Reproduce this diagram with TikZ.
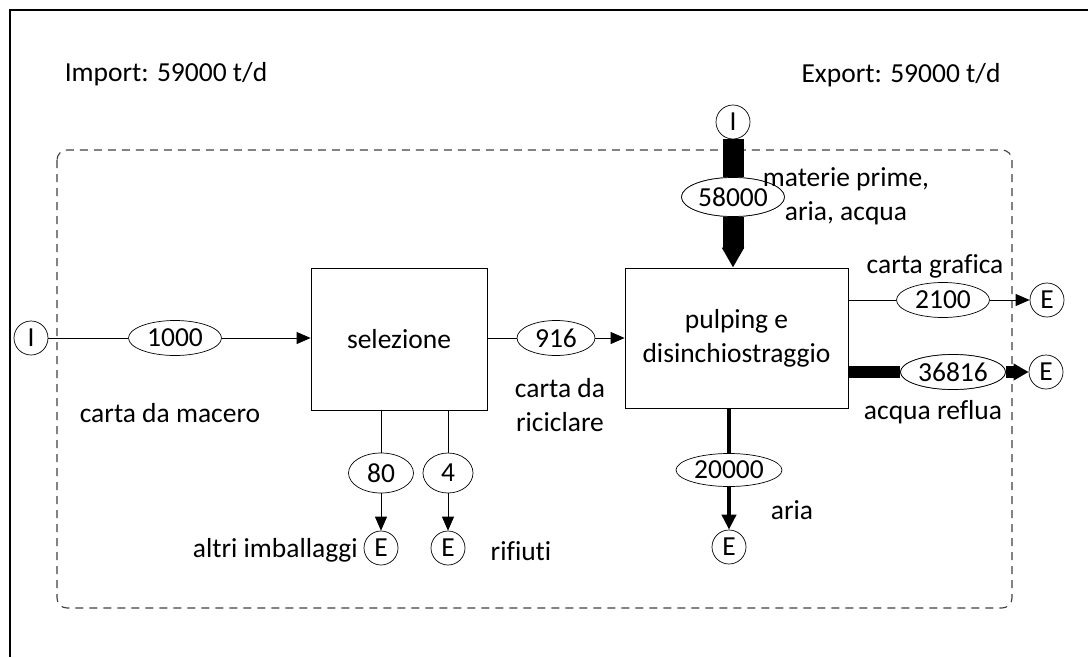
\documentclass[tikz,border=0pt]{standalone}
\usepackage{fontspec}
\setmainfont{Carlito}[Ligatures=NoCommon]
\usetikzlibrary{arrows.meta,shapes.geometric,calc}
\begin{document}
\begin{tikzpicture}[x=1pt,y=-1pt,
  every node/.style={font=\fontsize{27.5}{34}\selectfont, inner sep=0pt},
  val/.style={draw, ellipse, fill=white, line width=0.7pt, minimum height=35pt},
  io/.style={draw, circle, fill=white, line width=0.7pt, minimum size=34pt},
  proc/.style={draw, rectangle, line width=0.8pt, align=center},
  lbl/.style={align=center},
  flow/.style={line width=0.8pt},
  tip/.style={-{Triangle[length=14pt,width=12pt]}}
]
\useasboundingbox (0,0) rectangle (1088,657);
% outer frame (partially visible)
\draw[line width=1.5pt] (10,657) -- (10,10) -- (1088,10);
% system boundary
\draw[dash pattern=on 8pt off 6pt, line width=1.1pt, black!75, rounded corners=10pt] (57,150) rectangle (1012,608);

\node[lbl] (imp) at (166,74) {Import: 59000 t/d};
\node[lbl] (exp) at (901,75) {Export: 59000 t/d};

% processes
\node[proc, minimum width=176pt, minimum height=142pt] (sel) at (399,339) {selezione};
\node[proc, minimum width=223pt, minimum height=140pt] (pul) at (736.5,338) {pulping e\\disinchiostraggio};

% input left
\node[io] (Ileft) at (31,338) {I};
\node[val, minimum width=93pt] (e1000) at (175,338) {1000};
\draw[flow] (Ileft.east) -- (e1000.west);
\draw[flow, tip] (e1000.east) -- (sel.west |- e1000);
\node[lbl] (l1) at (170,413) {carta da macero};

% selezione -> pulping
\node[val, minimum width=78pt] (e916) at (556,338) {916};
\draw[flow] (sel.east |- e916) -- (e916.west);
\draw[flow, tip] (e916.east) -- (pul.west);
\node[lbl] (l2) at (560,405) {carta da\\riciclare};

% outputs of selezione
\node[val, minimum width=65pt, minimum height=40pt] (e80) at (381,473) {80};
\node[val, minimum width=50pt, minimum height=40pt] (e4) at (448,473) {4};
\node[io] (E1) at (381,548) {E};
\node[io] (E2) at (448,548) {E};
\draw[flow] (sel.south -| e80) -- (e80.north);
\draw[flow] (sel.south -| e4) -- (e4.north);
\draw[flow, tip] (e80.south) -- (E1.north);
\draw[flow, tip] (e4.south) -- (E2.north);
\node[lbl, anchor=east] (l3) at (358,550) {altri imballaggi};
\node[lbl] (l4) at (521,551) {rifiuti};

% top input
\node[io] (Itop) at (733,122) {I};
\node[val, minimum width=103pt, minimum height=39pt] (e58000) at (733,197) {58000};
\draw[line width=21pt] (Itop.south) -- (e58000.north);
\draw[line width=21pt, -{Triangle[length=20pt,width=21pt]}] (e58000.south) -- (pul.north -| e58000);
\node[val, minimum width=103pt, minimum height=39pt] at (e58000) {58000};
\node[lbl] (l5) at (846,196) {materie prime,\\aria, acqua};

% right outputs
\node[val, minimum width=93pt] (e2100) at (943,300) {2100};
\node[io] (E3) at (1047,300) {E};
\draw[flow] (e2100 -| pul.east) -- (e2100.west);
\draw[flow, tip] (e2100.east) -- (E3.west);
\node[lbl] (l6) at (935,266) {carta grafica};

\node[val, minimum width=105pt] (e36816) at (953,372) {36816};
\node[io] (E4) at (1046,372) {E};
\draw[line width=12pt] (e36816 -| pul.east) -- (e36816.west);
\draw[line width=12pt, -{Triangle[length=15pt,width=16pt]}] (e36816.east) -- (E4.west);
\node[val, minimum width=105pt] at (e36816) {36816};
\node[lbl] (l7) at (933,412) {acqua reflua};

% bottom output
\node[val, minimum width=106pt, minimum height=33pt] (e20000) at (729,470) {20000};
\node[io] (E5) at (729,547) {E};
\draw[line width=4pt] (pul.south -| e20000) -- (e20000.north);
\draw[line width=4pt, -{Triangle[length=15pt,width=14pt]}] (e20000.south) -- (E5.north);
\node[lbl] (l8) at (792,510) {aria};
\end{tikzpicture}
\end{document}
